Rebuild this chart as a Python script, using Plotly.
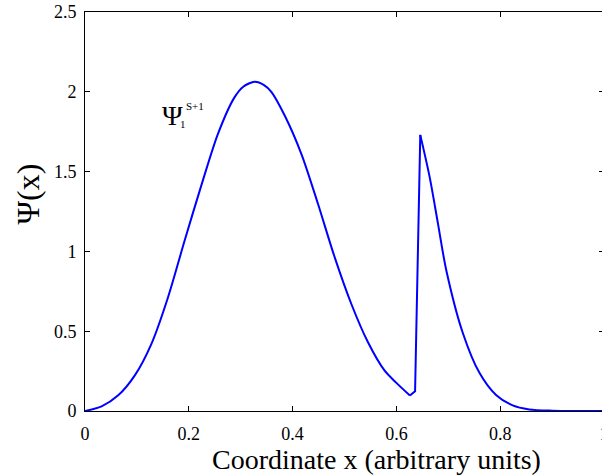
import plotly.graph_objects as go

# ---- data ----
bump_x = [0.000, 0.032, 0.064, 0.096, 0.128, 0.160, 0.192, 0.224, 0.256, 0.288,
          0.305, 0.327, 0.345, 0.359, 0.385, 0.417, 0.449, 0.481, 0.513, 0.545,
          0.577, 0.600, 0.626]
bump_y = [0.000, 0.029, 0.098, 0.223, 0.421, 0.713, 1.068, 1.412, 1.735, 1.965,
          2.032, 2.063, 2.042, 2.000, 1.850, 1.610, 1.297, 0.964, 0.672, 0.432,
          0.254, 0.176, 0.097]
jump_x = [0.626, 0.636, 0.646]
jump_y = [0.097, 0.124, 1.730]
tail_x = [0.646, 0.664, 0.680, 0.696, 0.728, 0.760, 0.792, 0.824, 0.856, 0.900, 0.950, 1.000]
tail_y = [1.730, 1.467, 1.176, 0.884, 0.489, 0.239, 0.100, 0.035, 0.010, 0.002, 0.000, 0.000]

x_ticks = [0, 0.2, 0.4, 0.6, 0.8, 1]
x_tick_text = ["0", "0.2", "0.4", "0.6", "0.8", "1"]
y_ticks = [0, 0.5, 1, 1.5, 2, 2.5]
y_tick_text = ["0", "0.5", "1", "1.5", "2", "2.5"]

x_title = "Coordinate x (arbitrary units)"
y_title = "Ψ(x)"

FONT = "Liberation Serif, Times New Roman, serif"
BLUE = "rgb(0,0,255)"

fig = go.Figure()
fig.add_trace(go.Scatter(x=bump_x, y=bump_y, mode="lines",
                         line=dict(color=BLUE, width=2, shape="spline", smoothing=0.8),
                         showlegend=False, hoverinfo="skip"))
fig.add_trace(go.Scatter(x=jump_x, y=jump_y, mode="lines",
                         line=dict(color=BLUE, width=2),
                         showlegend=False, hoverinfo="skip"))
fig.add_trace(go.Scatter(x=tail_x, y=tail_y, mode="lines",
                         line=dict(color=BLUE, width=2, shape="spline", smoothing=0.8),
                         showlegend=False, hoverinfo="skip"))

# plot area: x 85..604.5, y 12..411.5 (right border falls just outside the window)
fig.update_layout(
    width=605, height=476,
    margin=dict(l=85, r=0.5, t=12, b=64.5),
    paper_bgcolor="white", plot_bgcolor="white",
    font=dict(family=FONT, size=18, color="black"),
    xaxis=dict(range=[0, 1], tickvals=x_ticks, ticktext=x_tick_text,
               ticks="inside", ticklen=5, tickcolor="black",
               showline=True, linecolor="black", linewidth=1, mirror="ticks",
               showgrid=False, zeroline=False, ticklabelstandoff=6,
               ticklabeloverflow="allow", automargin=False),
    yaxis=dict(range=[0, 2.5], tickvals=y_ticks, ticktext=y_tick_text,
               ticks="inside", ticklen=5, tickcolor="black",
               showline=True, linecolor="black", linewidth=1, mirror="ticks",
               showgrid=False, zeroline=False, ticklabelstandoff=4,
               ticklabeloverflow="allow", automargin=False),
)

# axis titles placed as annotations
fig.add_annotation(text=x_title, xref="paper", yref="paper", x=0.562, y=-0.1207,
                   xanchor="center", yanchor="middle", showarrow=False,
                   font=dict(family=FONT, size=28, color="black"))
fig.add_annotation(text=y_title, xref="paper", yref="paper", x=-0.1107, y=0.544,
                   xanchor="center", yanchor="middle", showarrow=False, textangle=-90,
                   font=dict(family=FONT, size=32, color="black"))

# curve label Ψ_1^{S+1}
fig.add_annotation(text="Ψ", x=0.168, y=1.853, xref="x", yref="y", showarrow=False,
                   xanchor="center", yanchor="middle",
                   font=dict(family=FONT, size=28, color="black"))
fig.add_annotation(text="1", x=0.188, y=1.80, xref="x", yref="y", showarrow=False,
                   xanchor="center", yanchor="middle",
                   font=dict(family=FONT, size=11, color="black"))
fig.add_annotation(text="S+1", x=0.212, y=1.914, xref="x", yref="y", showarrow=False,
                   xanchor="center", yanchor="middle",
                   font=dict(family=FONT, size=11, color="black"))

fig.write_html("out.html", config={"displayModeBar": False},
               post_script="document.body.style.margin='0';document.body.style.overflow='hidden';")
